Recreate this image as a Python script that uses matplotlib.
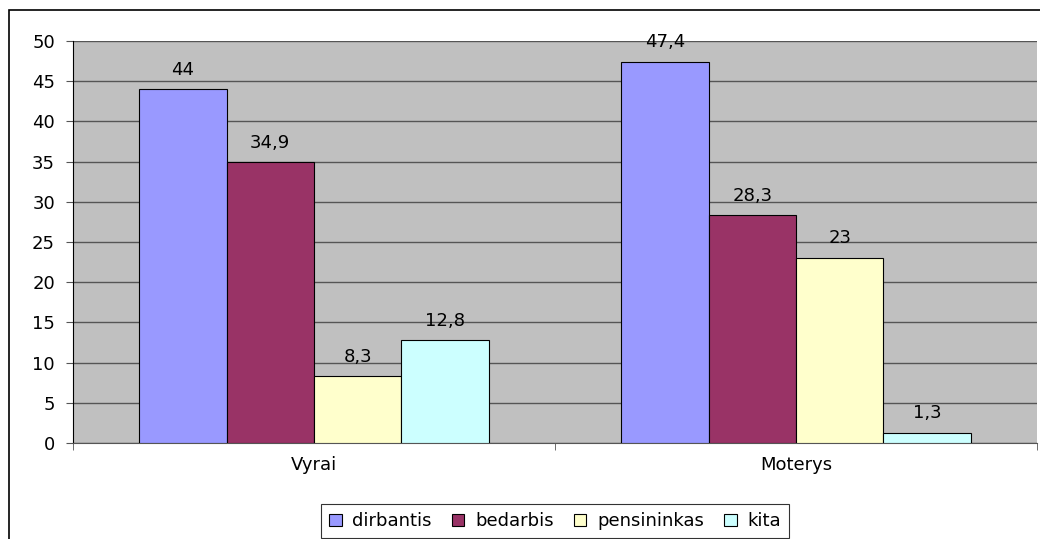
import matplotlib
matplotlib.use("Agg")
import matplotlib.pyplot as plt
import numpy as np
from matplotlib.patches import Rectangle

categories = ["Vyrai", "Moterys"]
series_names = ["dirbantis", "bedarbis", "pensininkas", "kita"]
values = {
    "dirbantis": [44, 47.4],
    "bedarbis": [34.9, 28.3],
    "pensininkas": [8.3, 23],
    "kita": [12.8, 1.3],
}
colors = ["#9999FF", "#993366", "#FFFFCC", "#CCFFFF"]
yticks = [0, 5, 10, 15, 20, 25, 30, 35, 40, 45, 50]

plt.rcParams['font.family'] = ['DejaVu Sans']
FS = 13
fig = plt.figure(figsize=(10.4, 5.39), dpi=100)
fig.patches.append(Rectangle((9/1040, -0.2), 1.2, 1.2 - 10/539, transform=fig.transFigure,
                             fill=False, edgecolor='black', linewidth=1.2, zorder=10))
ax = fig.add_axes([73/1040, 1 - 443/539, (1037 - 73)/1040, (443 - 41)/539])
ax.set_facecolor('#C0C0C0')

x = np.arange(len(categories))
bw = 0.1815
for i, (name, c) in enumerate(zip(series_names, colors)):
    pos = x + (i - 1.5) * bw
    ax.bar(pos, values[name], width=bw, color=c, edgecolor='black', linewidth=0.8,
           label=name, zorder=3)
    for p, v in zip(pos, values[name]):
        ax.annotate(str(v).replace('.', ','), (p, v), xytext=(0, 10.5),
                    textcoords='offset points', ha='center', va='baseline',
                    fontsize=FS, zorder=4)

ax.set_xlim(-0.5, 1.5)
ax.set_ylim(0, 50)
ax.set_yticks(yticks)
ax.set_yticklabels([str(t) for t in yticks], fontsize=FS)
ax.yaxis.grid(True, color='#555555', linewidth=1.0, zorder=0)
ax.set_axisbelow(True)
ax.set_xticks(x)
ax.set_xticklabels(categories, fontsize=FS)
ax.tick_params(axis='x', length=0, pad=9)
ax.set_xticks([-0.5, 0.5, 1.5], minor=True)
ax.tick_params(axis='x', which='minor', length=5, color='#555555', direction='out')
ax.tick_params(axis='y', length=5, color='#555555', direction='out', pad=8)
for s in ['top', 'right']:
    ax.spines[s].set_visible(False)
ax.spines['left'].set_color('black')
ax.spines['bottom'].set_color('#555555')

leg = ax.legend(loc='upper center', bbox_to_anchor=(0.5, -0.152), ncol=4, fontsize=FS,
                frameon=True, fancybox=False, edgecolor='black', handlelength=0.7,
                handleheight=0.7, handletextpad=0.6, columnspacing=1.1, borderpad=0.45,
                borderaxespad=0)
leg.get_frame().set_linewidth(0.8)

fig.savefig('out.png', dpi=100)
